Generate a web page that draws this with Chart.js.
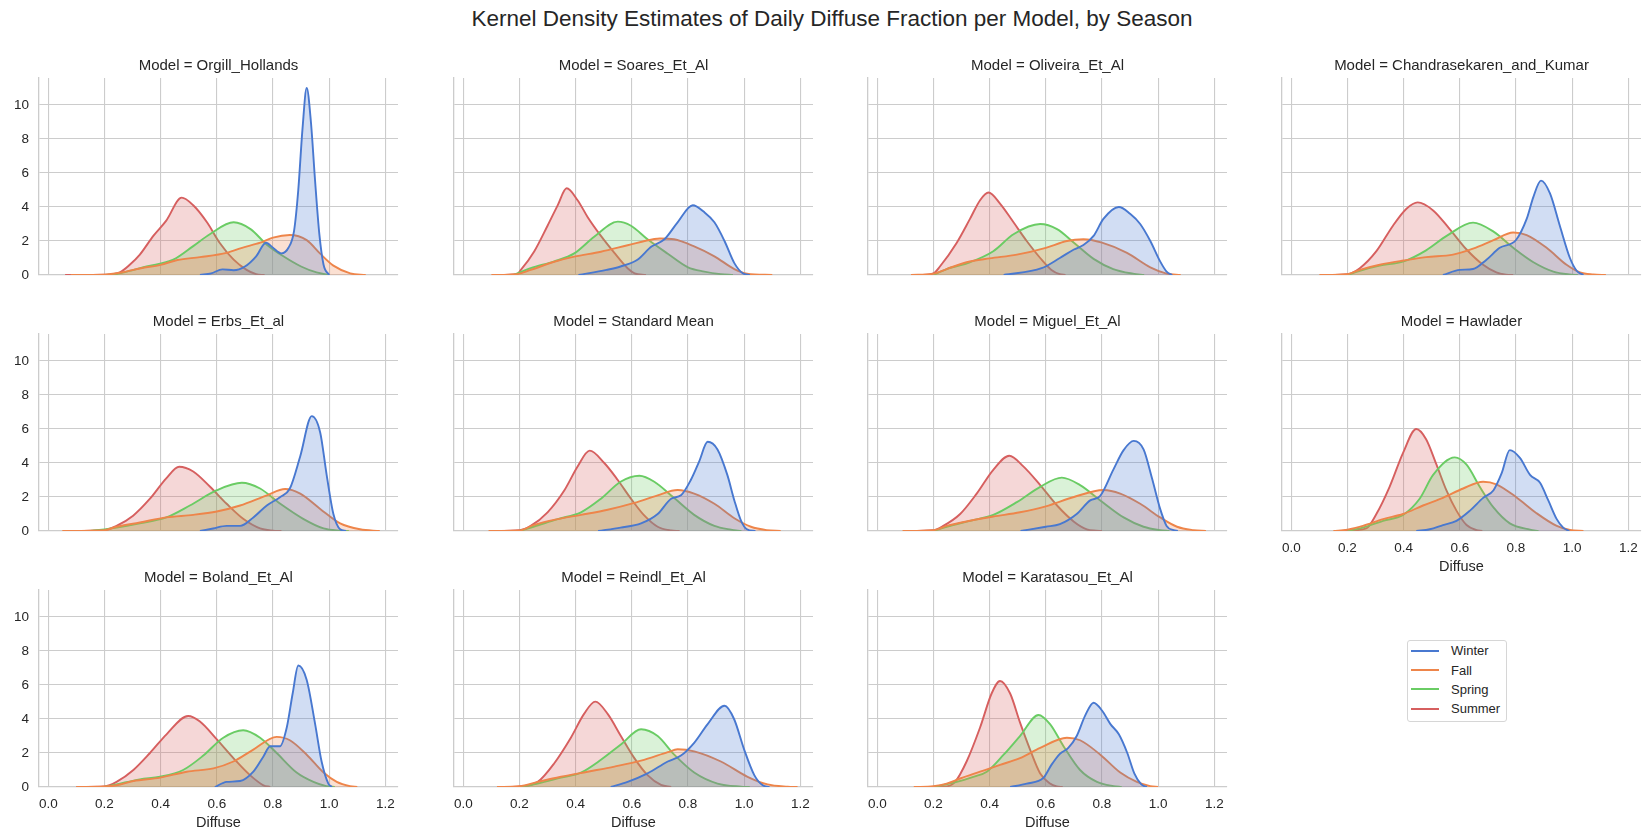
<!DOCTYPE html>
<html>
<head>
<meta charset="utf-8">
<script src="https://cdn.jsdelivr.net/npm/chart.js@4.4.1/dist/chart.umd.min.js"></script>
<style>
  body {
    margin: 0;
    width: 1650px;
    height: 834px;
    position: relative;
    overflow: hidden;
    background: #fff;
    font-family: "Liberation Sans", Arial, sans-serif;
    color: #262626;
  }
  #title {
    position: absolute;
    left: 832px;
    top: 6px;
    transform: translateX(-50%);
    white-space: nowrap;
    font-size: 22.5px;
  }
  .panel { position: absolute; }
  #legend {
    position: absolute;
    left: 1407px;
    top: 640px;
    width: 98px;
    height: 80px;
    border: 1px solid #d6d6d6;
    border-radius: 3px;
    background: #fff;
  }
  .legend-row {
    height: 19.4px;
    display: flex;
    align-items: center;
    font-size: 13px;
  }
  .legend-line {
    width: 28px;
    height: 2px;
    margin-left: 3px;
    margin-right: 12px;
  }
</style>
</head>
<body>
<div id="title">Kernel Density Estimates of Daily Diffuse Fraction per Model, by Season</div>
<div id="legend"></div>
<script>
// ---- data -------------------------------------------------------------
const seasons = ['Winter', 'Fall', 'Spring', 'Summer'];
const models = [
    'Orgill_Hollands', 'Soares_Et_Al', 'Oliveira_Et_Al', 'Chandrasekaren_and_Kumar',
    'Erbs_Et_al', 'Standard Mean', 'Miguel_Et_Al', 'Hawlader',
    'Boland_Et_Al', 'Reindl_Et_Al', 'Karatasou_Et_Al'
];
const xTicks = [0, 0.2, 0.4, 0.6, 0.8, 1.0, 1.2];
const yTicks = [0, 2, 4, 6, 8, 10];

// each model: [Winter, Fall, Spring, Summer], each a list of [diffuse, density]
const kdeOrgillHollands = [
    [[0.54,0],[0.58,0.1],[0.62,0.33],[0.66,0.28],[0.70,0.5],[0.74,1.1],[0.775,1.9],[0.80,1.6],[0.83,1.27],[0.855,1.6],[0.875,2.6],[0.89,5.0],[0.905,8.6],[0.92,11.0],[0.935,9.0],[0.95,5.5],[0.965,2.4],[0.98,0.6],[1.0,0]],
    [[0.08,0],[0.2,0.02],[0.26,0.15],[0.33,0.4],[0.40,0.6],[0.46,0.88],[0.54,1.05],[0.635,1.3],[0.69,1.6],[0.755,1.9],[0.80,2.2],[0.86,2.35],[0.92,2.05],[0.967,1.27],[1.015,0.55],[1.075,0.1],[1.13,0]],
    [[0.18,0],[0.24,0.05],[0.28,0.2],[0.35,0.5],[0.445,0.9],[0.516,1.7],[0.575,2.4],[0.66,3.1],[0.72,2.7],[0.777,1.8],[0.837,1.1],[0.90,0.5],[0.955,0.15],[1.0,0]],
    [[0.06,0],[0.2,0.02],[0.23,0.05],[0.255,0.15],[0.29,0.6],[0.326,1.2],[0.374,2.3],[0.42,3.2],[0.475,4.55],[0.516,4.1],[0.565,3.1],[0.61,1.9],[0.66,0.9],[0.706,0.3],[0.74,0.05],[0.77,0]]
];
const kdeSoaresEtAl = [
    [[0.41,0],[0.51,0.3],[0.56,0.5],[0.62,0.9],[0.67,1.67],[0.716,2.1],[0.763,3.1],[0.817,4.1],[0.858,3.7],[0.894,3.1],[0.93,2.0],[0.965,0.7],[0.995,0.1],[1.02,0]],
    [[0.1,0],[0.19,0.05],[0.24,0.3],[0.324,0.78],[0.395,1.08],[0.49,1.37],[0.585,1.75],[0.68,2.12],[0.70,2.15],[0.75,2.1],[0.82,1.7],[0.894,1.1],[0.965,0.35],[1.01,0.08],[1.1,0]],
    [[0.18,0],[0.24,0.4],[0.324,0.8],[0.395,1.27],[0.466,2.25],[0.55,3.14],[0.597,2.9],[0.656,2.1],[0.728,1.25],[0.80,0.45],[0.858,0.2],[0.917,0.05],[0.96,0]],
    [[0.12,0],[0.19,0.05],[0.205,0.3],[0.253,1.4],[0.30,2.9],[0.336,4.1],[0.368,5.1],[0.407,4.4],[0.443,3.4],[0.49,2.3],[0.538,1.3],[0.585,0.4],[0.61,0.1],[0.65,0]]
];
const kdeOliveiraEtAl = [
    [[0.45,0],[0.585,0.4],[0.65,1.0],[0.70,1.5],[0.734,1.76],[0.77,2.3],[0.805,3.3],[0.86,4.0],[0.90,3.6],[0.936,3.0],[0.972,2.0],[1.007,0.8],[1.03,0.2],[1.05,0]],
    [[0.12,0],[0.2,0.08],[0.247,0.35],[0.318,0.75],[0.40,0.98],[0.497,1.2],[0.60,1.6],[0.675,2.0],[0.734,2.1],[0.80,1.9],[0.889,1.3],[0.972,0.45],[1.03,0.08],[1.08,0]],
    [[0.2,0],[0.247,0.35],[0.33,0.75],[0.413,1.4],[0.485,2.4],[0.58,3.0],[0.64,2.7],[0.70,1.9],[0.77,0.95],[0.84,0.35],[0.91,0.08],[0.95,0]],
    [[0.15,0],[0.2,0.1],[0.223,0.5],[0.283,1.9],[0.33,3.3],[0.366,4.4],[0.396,4.85],[0.437,4.2],[0.485,3.1],[0.532,2.0],[0.58,1.0],[0.62,0.3],[0.65,0.05],[0.67,0]]
];
const kdeChandrasekarenKumar = [
    [[0.54,0],[0.60,0.3],[0.647,0.35],[0.695,0.9],[0.742,1.6],[0.80,2.06],[0.838,3.3],[0.862,4.6],[0.889,5.55],[0.921,4.8],[0.956,2.9],[0.992,1.0],[1.016,0.25],[1.04,0]],
    [[0.1,0],[0.2,0.05],[0.244,0.3],[0.315,0.6],[0.40,0.85],[0.48,1.05],[0.576,1.2],[0.647,1.55],[0.72,2.05],[0.79,2.5],[0.838,2.35],[0.909,1.6],[0.98,0.6],[1.028,0.15],[1.075,0.03],[1.12,0]],
    [[0.2,0],[0.244,0.25],[0.315,0.55],[0.40,0.8],[0.48,1.45],[0.553,2.3],[0.647,3.08],[0.72,2.55],[0.79,1.6],[0.862,0.75],[0.933,0.2],[0.99,0.03],[1.02,0]],
    [[0.12,0],[0.2,0.05],[0.244,0.4],[0.303,1.4],[0.362,2.9],[0.41,3.9],[0.45,4.27],[0.505,3.8],[0.564,2.7],[0.624,1.5],[0.683,0.6],[0.73,0.15],[0.766,0.02],[0.79,0]]
];
const kdeErbsEtAl = [
    [[0.54,0],[0.587,0.15],[0.635,0.3],[0.683,0.3],[0.73,0.8],[0.778,1.5],[0.826,2.0],[0.86,2.5],[0.897,4.4],[0.938,6.76],[0.968,5.8],[0.991,3.3],[1.015,1.0],[1.039,0.1],[1.06,0]],
    [[0.05,0],[0.2,0.05],[0.243,0.25],[0.326,0.5],[0.42,0.8],[0.516,0.95],[0.60,1.15],[0.683,1.5],[0.778,2.1],[0.843,2.47],[0.897,2.2],[0.968,1.3],[1.039,0.45],[1.11,0.1],[1.18,0]],
    [[0.15,0],[0.243,0.2],[0.326,0.45],[0.42,0.8],[0.504,1.5],[0.60,2.4],[0.689,2.84],[0.754,2.5],[0.826,1.6],[0.909,0.7],[0.98,0.15],[1.04,0.02],[1.07,0]],
    [[0.07,0],[0.2,0.05],[0.243,0.3],[0.302,0.9],[0.362,1.9],[0.42,3.1],[0.466,3.78],[0.516,3.5],[0.576,2.6],[0.635,1.6],[0.695,0.7],[0.754,0.15],[0.80,0.02],[0.83,0]]
];
const kdeStandardMean = [
    [[0.48,0],[0.56,0.2],[0.633,0.45],[0.692,1.0],[0.74,1.9],[0.775,2.1],[0.81,3.0],[0.84,4.1],[0.87,5.25],[0.905,4.8],[0.94,3.3],[0.965,1.8],[0.989,0.6],[1.01,0.1],[1.04,0]],
    [[0.09,0],[0.2,0.03],[0.25,0.35],[0.336,0.7],[0.419,0.95],[0.514,1.25],[0.609,1.65],[0.692,2.1],[0.763,2.41],[0.822,2.2],[0.894,1.6],[0.965,0.75],[1.024,0.25],[1.08,0.05],[1.13,0]],
    [[0.2,0],[0.25,0.25],[0.336,0.7],[0.419,1.1],[0.49,1.9],[0.56,2.9],[0.627,3.25],[0.68,2.9],[0.75,1.95],[0.822,0.95],[0.894,0.3],[0.953,0.08],[0.99,0]],
    [[0.1,0],[0.2,0.05],[0.24,0.3],[0.30,1.1],[0.36,2.4],[0.407,3.8],[0.45,4.73],[0.502,4.0],[0.55,3.0],[0.597,1.9],[0.645,0.9],[0.692,0.25],[0.74,0.03],[0.77,0]]
];
const kdeMiguelEtAl = [
    [[0.51,0],[0.60,0.25],[0.65,0.4],[0.71,1.0],[0.758,1.8],[0.793,2.05],[0.84,3.6],[0.877,4.76],[0.913,5.3],[0.948,4.8],[0.978,3.1],[1.007,1.3],[1.03,0.3],[1.055,0.05],[1.07,0]],
    [[0.09,0],[0.2,0.05],[0.247,0.3],[0.33,0.6],[0.413,0.85],[0.508,1.1],[0.60,1.45],[0.70,2.0],[0.805,2.41],[0.865,2.2],[0.936,1.6],[1.007,0.8],[1.067,0.25],[1.126,0.05],[1.17,0]],
    [[0.2,0],[0.247,0.25],[0.33,0.6],[0.413,0.95],[0.497,1.7],[0.58,2.6],[0.657,3.14],[0.722,2.7],[0.794,1.8],[0.877,0.8],[0.948,0.25],[1.007,0.05],[1.04,0]],
    [[0.1,0],[0.2,0.05],[0.235,0.3],[0.295,1.0],[0.354,2.2],[0.413,3.6],[0.47,4.43],[0.52,3.8],[0.58,2.7],[0.64,1.5],[0.70,0.55],[0.746,0.1],[0.78,0.02],[0.80,0]]
];
const kdeHawlader = [
    [[0.445,0],[0.493,0.1],[0.54,0.35],[0.588,0.6],[0.636,1.2],[0.683,1.95],[0.72,2.4],[0.749,3.4],[0.778,4.76],[0.814,4.3],[0.85,3.3],[0.885,2.85],[0.915,1.8],[0.945,0.7],[0.968,0.2],[0.99,0]],
    [[0.15,0],[0.2,0.08],[0.255,0.3],[0.327,0.7],[0.398,1.0],[0.469,1.5],[0.54,1.95],[0.612,2.5],[0.683,2.9],[0.73,2.75],[0.80,2.0],[0.873,1.05],[0.945,0.3],[0.992,0.06],[1.04,0]],
    [[0.2,0],[0.255,0.2],[0.327,0.6],[0.398,0.95],[0.457,1.9],[0.505,3.3],[0.582,4.33],[0.624,3.9],[0.671,2.6],[0.719,1.4],[0.778,0.45],[0.85,0.08],[0.88,0]],
    [[0.18,0],[0.208,0.03],[0.267,0.15],[0.303,1.0],[0.35,2.6],[0.398,4.6],[0.445,6.0],[0.48,5.4],[0.517,3.9],[0.552,2.4],[0.588,1.2],[0.624,0.35],[0.66,0.05],[0.68,0]]
];
const kdeBolandEtAl = [
    [[0.593,0],[0.635,0.3],[0.683,0.35],[0.73,0.9],[0.766,1.8],[0.79,2.4],[0.825,2.4],[0.849,3.5],[0.87,5.5],[0.89,7.15],[0.92,6.3],[0.95,3.7],[0.973,1.5],[0.997,0.2],[1.01,0]],
    [[0.1,0],[0.2,0.03],[0.243,0.1],[0.303,0.35],[0.398,0.55],[0.493,0.9],[0.588,1.1],[0.659,1.5],[0.73,2.2],[0.813,2.95],[0.86,2.75],[0.92,1.9],[0.98,0.85],[1.027,0.3],[1.074,0.05],[1.1,0]],
    [[0.2,0],[0.243,0.15],[0.326,0.45],[0.398,0.6],[0.48,1.0],[0.552,1.85],[0.623,2.9],[0.694,3.34],[0.754,2.9],[0.813,2.0],[0.884,0.85],[0.944,0.3],[0.99,0.05],[1.02,0]],
    [[0.1,0],[0.2,0.03],[0.243,0.3],[0.303,1.0],[0.362,2.0],[0.421,3.1],[0.498,4.18],[0.54,3.85],[0.60,2.8],[0.659,1.7],[0.718,0.7],[0.766,0.1],[0.79,0]]
];
const kdeReindlEtAl = [
    [[0.525,0],[0.585,0.3],[0.656,0.8],[0.728,1.5],[0.775,1.85],[0.822,2.6],[0.87,3.7],[0.93,4.78],[0.964,4.0],[1.0,2.2],[1.036,0.7],[1.066,0.1],[1.09,0]],
    [[0.12,0],[0.2,0.05],[0.265,0.3],[0.348,0.6],[0.443,0.9],[0.538,1.2],[0.633,1.55],[0.728,2.05],[0.763,2.22],[0.822,2.1],[0.917,1.5],[1.012,0.6],[1.083,0.15],[1.155,0.02],[1.19,0]],
    [[0.2,0],[0.265,0.2],[0.348,0.55],[0.419,0.85],[0.49,1.6],[0.561,2.5],[0.633,3.4],[0.692,3.0],[0.751,1.9],[0.822,0.85],[0.905,0.2],[0.989,0.02],[1.02,0]],
    [[0.14,0],[0.2,0.03],[0.265,0.3],[0.324,1.4],[0.383,2.9],[0.43,4.3],[0.47,5.02],[0.514,4.3],[0.561,3.0],[0.609,1.7],[0.656,0.7],[0.704,0.12],[0.74,0]]
];
const kdeKaratasouEtAl = [
    [[0.473,0],[0.532,0.2],[0.592,0.55],[0.62,1.3],[0.65,1.95],[0.68,2.3],[0.71,3.0],[0.74,4.2],[0.77,4.96],[0.80,4.5],[0.83,3.7],[0.86,3.1],[0.89,2.0],[0.915,0.8],[0.94,0.15],[0.96,0]],
    [[0.13,0],[0.2,0.05],[0.247,0.2],[0.295,0.5],[0.366,0.9],[0.437,1.3],[0.508,1.7],[0.58,2.3],[0.675,2.9],[0.722,2.75],[0.794,1.9],[0.865,0.85],[0.924,0.3],[0.972,0.05],[1.0,0]],
    [[0.2,0],[0.283,0.3],[0.342,0.6],[0.39,0.9],[0.45,1.9],[0.508,3.0],[0.574,4.24],[0.615,3.7],[0.663,2.4],[0.722,1.0],[0.782,0.3],[0.841,0.05],[0.87,0]],
    [[0.2,0],[0.247,0.03],[0.277,0.3],[0.318,1.5],[0.366,3.5],[0.407,5.5],[0.437,6.24],[0.473,5.5],[0.508,3.8],[0.544,2.2],[0.58,0.8],[0.615,0.2],[0.639,0.03],[0.66,0]]
];

const panelData = [
    kdeOrgillHollands, kdeSoaresEtAl, kdeOliveiraEtAl, kdeChandrasekarenKumar,
    kdeErbsEtAl, kdeStandardMean, kdeMiguelEtAl, kdeHawlader,
    kdeBolandEtAl, kdeReindlEtAl, kdeKaratasouEtAl
];

// ---- look -------------------------------------------------------------
const lineColors = ['#4878d0', '#ee854a', '#6acc64', '#d65f5f'];
const fillColors = ['rgba(72,120,208,0.25)', 'rgba(238,133,74,0.25)', 'rgba(106,204,100,0.25)', 'rgba(214,95,95,0.25)'];
const textColor = '#262626';
const gridColor = '#cccccc';
const fontFamily = '"Liberation Sans", Arial, sans-serif';

// facet grid geometry (plot areas)
const colLeft = [39, 454, 868, 1282];
const rowTop = [78, 334, 590];
const plotW = 359, plotH = 197;
const sideW = 38;     // room for the y tick labels
const padR = 8;
const titleH = 30;
const xAxisH = 50;
const X_MIN = -0.033, X_MAX = 1.245;
const Y_MAX = 11.59;

models.forEach((name, i) => {
    const col = i % 4;
    const row = Math.floor(i / 4);
    const showX = row === 2 || i === 7;   // bottom row + Hawlader
    const showY = col === 0;

    const wrap = document.createElement('div');
    wrap.className = 'panel';
    wrap.style.left = (colLeft[col] - sideW) + 'px';
    wrap.style.top = (rowTop[row] - titleH) + 'px';
    const canvas = document.createElement('canvas');
    canvas.width = plotW + sideW + padR;
    canvas.height = plotH + titleH + xAxisH;
    wrap.appendChild(canvas);
    document.body.appendChild(wrap);

    new Chart(canvas, {
        type: 'line',
        data: {
            datasets: seasons.map((s, k) => ({
                label: s,
                data: panelData[i][k].map(([x, y]) => ({ x, y })),
                borderColor: lineColors[k],
                backgroundColor: fillColors[k],
                borderWidth: 1.9,
                pointRadius: 0,
                fill: 'origin',
                cubicInterpolationMode: 'monotone'
            }))
        },
        options: {
            responsive: false,
            animation: false,
            layout: { padding: { right: padR } },
            plugins: {
                legend: { display: false },
                tooltip: { enabled: false },
                title: {
                    display: true,
                    fullSize: false,   // centre over the plot area, not the canvas
                    text: 'Model = ' + name,
                    color: textColor,
                    font: { family: fontFamily, size: 15, weight: 'normal', lineHeight: 1.2 },
                    padding: { top: 9, bottom: 3 }
                }
            },
            scales: {
                x: {
                    type: 'linear',
                    min: X_MIN,
                    max: X_MAX,
                    afterBuildTicks: s => { s.ticks = xTicks.map(v => ({ value: v })); },
                    afterFit: s => { s.height = xAxisH; },
                    grid: { color: gridColor, lineWidth: 1.1, drawTicks: false },
                    border: { display: true, color: gridColor, width: 1.3 },
                    ticks: {
                        display: showX,
                        padding: 9,
                        color: textColor,
                        font: { family: fontFamily, size: 13.5 },
                        callback: v => v.toFixed(1)
                    },
                    title: {
                        display: showX,
                        text: 'Diffuse',
                        color: textColor,
                        font: { family: fontFamily, size: 14.5 },
                        padding: { top: 0, bottom: 5 }
                    }
                },
                y: {
                    min: 0,
                    max: Y_MAX,
                    afterBuildTicks: s => { s.ticks = yTicks.map(v => ({ value: v })); },
                    afterFit: s => { s.width = sideW; },
                    grid: { color: gridColor, lineWidth: 1.1, drawTicks: false },
                    border: { display: true, color: gridColor, width: 1.3 },
                    ticks: {
                        display: showY,
                        padding: 10,
                        color: textColor,
                        font: { family: fontFamily, size: 13.5 },
                        callback: v => String(v)
                    }
                }
            }
        }
    });
});

// legend in the empty 12th cell
const legend = document.getElementById('legend');
seasons.forEach((s, k) => {
    const rowEl = document.createElement('div');
    rowEl.className = 'legend-row';
    const line = document.createElement('div');
    line.className = 'legend-line';
    line.style.background = lineColors[k];
    const label = document.createElement('span');
    label.textContent = s;
    rowEl.appendChild(line);
    rowEl.appendChild(label);
    legend.appendChild(rowEl);
});
</script>
</body>
</html>
